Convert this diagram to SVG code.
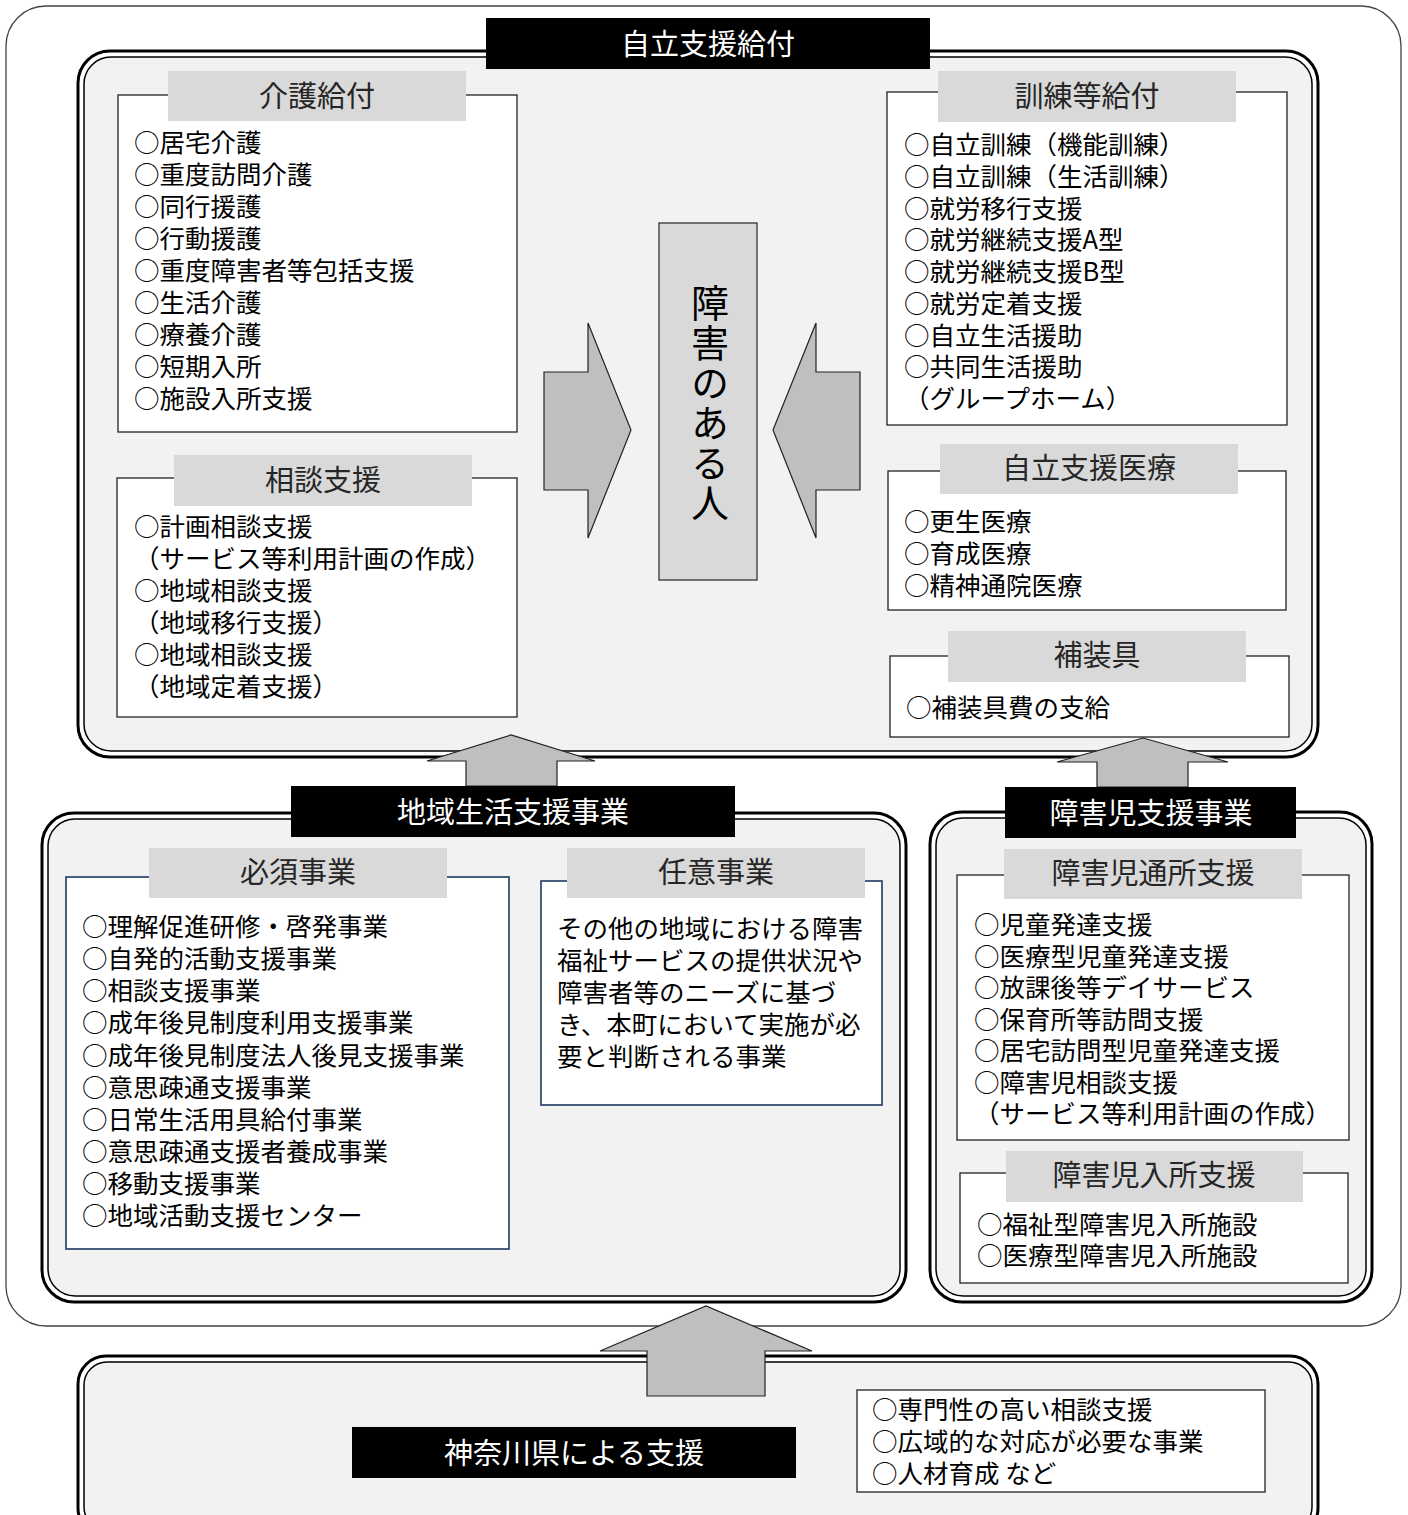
<svg xmlns="http://www.w3.org/2000/svg" width="1408" height="1515" viewBox="0 0 1408 1515">
<style>
text{font-family:"Noto Sans CJK JP","Noto Sans",sans-serif;}
.it{font-size:25.5px;fill:#000;dominant-baseline:central;}
.hd{font-size:29px;fill:#262626;text-anchor:middle;dominant-baseline:central;}
.bl{font-size:29px;fill:#fff;text-anchor:middle;dominant-baseline:central;}
.wb{fill:#fff;stroke:#222;stroke-width:1.3;}
.nb{fill:#fff;stroke:#1f3864;stroke-width:1.6;}
.gh{fill:#d9d9d9;}
.blk{fill:#000;}
.dbo{fill:#fff;stroke:#000;stroke-width:3;}
.dbi{fill:#f2f2f2;stroke:#000;stroke-width:1.5;}
.arr{fill:#bfbfbf;stroke:#222;stroke-width:1.2;}
</style>
<rect width="1408" height="1515" fill="#fff"/>
<rect id="outer" x="6" y="6" width="1395" height="1320" rx="40" fill="#fff" stroke="#444" stroke-width="1.3"/>

<g id="box-jiritsu">
<rect class="dbo" x="78" y="51" width="1240" height="706" rx="32"/>
<rect class="dbi" x="84" y="57" width="1228" height="694" rx="27"/>
</g>
<g id="box-chiiki">
<rect class="dbo" x="42" y="813" width="864" height="489" rx="32"/>
<rect class="dbi" x="48" y="819" width="852" height="477" rx="27"/>
</g>
<g id="box-shogaiji">
<rect class="dbo" x="930" y="812" width="442" height="490" rx="32"/>
<rect class="dbi" x="936" y="818" width="430" height="478" rx="27"/>
</g>
<g id="box-kanagawa">
<rect class="dbo" x="78" y="1356" width="1240" height="180" rx="28"/>
<rect class="dbi" x="84" y="1362" width="1228" height="168" rx="23"/>
</g>

<g id="kaigo">
<rect class="wb" x="118" y="95" width="399" height="337"/>
<rect class="gh" x="168" y="71" width="298" height="50"/>
<text class="hd" x="317" y="94">介護給付</text>
<text class="it"><tspan x="134" y="140">○居宅介護</tspan><tspan x="134" y="172">○重度訪問介護</tspan><tspan x="134" y="204">○同行援護</tspan><tspan x="134" y="236">○行動援護</tspan><tspan x="134" y="268">○重度障害者等包括支援</tspan><tspan x="134" y="300">○生活介護</tspan><tspan x="134" y="332">○療養介護</tspan><tspan x="134" y="364">○短期入所</tspan><tspan x="134" y="396">○施設入所支援</tspan></text>
</g>

<g id="sodan">
<rect class="wb" x="117" y="478" width="400" height="239"/>
<rect class="gh" x="174" y="455" width="298" height="51"/>
<text class="hd" x="323" y="478">相談支援</text>
<text class="it"><tspan x="134" y="524">○計画相談支援</tspan><tspan x="134" y="556">（サービス等利用計画の作成）</tspan><tspan x="134" y="588">○地域相談支援</tspan><tspan x="134" y="620">（地域移行支援）</tspan><tspan x="134" y="652">○地域相談支援</tspan><tspan x="134" y="684">（地域定着支援）</tspan></text>
</g>

<g id="kunren">
<rect class="wb" x="887" y="92" width="400" height="333"/>
<rect class="gh" x="938" y="71" width="298" height="51"/>
<text class="hd" x="1087" y="94">訓練等給付</text>
<text class="it"><tspan x="904" y="142">○自立訓練（機能訓練）</tspan><tspan x="904" y="174">○自立訓練（生活訓練）</tspan><tspan x="904" y="206">○就労移行支援</tspan><tspan x="904" y="237">○就労継続支援A型</tspan><tspan x="904" y="269">○就労継続支援B型</tspan><tspan x="904" y="301">○就労定着支援</tspan><tspan x="904" y="333">○自立生活援助</tspan><tspan x="904" y="364">○共同生活援助</tspan><tspan x="904" y="396">（グループホーム）</tspan></text>
</g>

<g id="iryo">
<rect class="wb" x="888" y="471" width="398" height="139"/>
<rect class="gh" x="940" y="444" width="298" height="50"/>
<text class="hd" x="1089" y="466">自立支援医療</text>
<text class="it"><tspan x="904" y="519">○更生医療</tspan><tspan x="904" y="551">○育成医療</tspan><tspan x="904" y="583">○精神通院医療</tspan></text>
</g>

<g id="hosogu">
<rect class="wb" x="890" y="656" width="399" height="81"/>
<rect class="gh" x="948" y="631" width="298" height="51"/>
<text class="hd" x="1097" y="653">補装具</text>
<text class="it" x="906" y="705">○補装具費の支給</text>
</g>

<g id="person">
<rect x="659" y="223" width="98" height="357" fill="#d9d9d9" stroke="#333" stroke-width="1.3"/>
<text x="710" y="404" font-size="38" fill="#000" text-anchor="middle" letter-spacing="2" style="writing-mode:vertical-rl;text-orientation:upright">障害のある人</text>
</g>

<g id="hissu">
<rect class="nb" x="66" y="877" width="443" height="372"/>
<rect class="gh" x="149" y="848" width="298" height="50"/>
<text class="hd" x="298" y="870">必須事業</text>
<text class="it"><tspan x="82" y="924">○理解促進研修・啓発事業</tspan><tspan x="82" y="956">○自発的活動支援事業</tspan><tspan x="82" y="988">○相談支援事業</tspan><tspan x="82" y="1020">○成年後見制度利用支援事業</tspan><tspan x="82" y="1053">○成年後見制度法人後見支援事業</tspan><tspan x="82" y="1085">○意思疎通支援事業</tspan><tspan x="82" y="1117">○日常生活用具給付事業</tspan><tspan x="82" y="1149">○意思疎通支援者養成事業</tspan><tspan x="82" y="1181">○移動支援事業</tspan><tspan x="82" y="1213">○地域活動支援センター</tspan></text>
</g>

<g id="nini">
<rect class="nb" x="541" y="881" width="341" height="224"/>
<rect class="gh" x="567" y="848" width="298" height="50"/>
<text class="hd" x="716" y="870">任意事業</text>
<text class="it"><tspan x="557" y="926">その他の地域における障害</tspan><tspan x="557" y="958">福祉サービスの提供状況や</tspan><tspan x="557" y="990">障害者等のニーズに基づ</tspan><tspan x="557" y="1022">き、本町において実施が必</tspan><tspan x="557" y="1054">要と判断される事業</tspan></text>
</g>

<g id="tsusho">
<rect class="wb" x="957" y="875" width="392" height="265"/>
<rect class="gh" x="1004" y="849" width="298" height="50"/>
<text class="hd" x="1153" y="871">障害児通所支援</text>
<text class="it"><tspan x="974" y="922">○児童発達支援</tspan><tspan x="974" y="954">○医療型児童発達支援</tspan><tspan x="974" y="985">○放課後等デイサービス</tspan><tspan x="974" y="1017">○保育所等訪問支援</tspan><tspan x="974" y="1048">○居宅訪問型児童発達支援</tspan><tspan x="974" y="1080">○障害児相談支援</tspan><tspan x="974" y="1111">（サービス等利用計画の作成）</tspan></text>
</g>

<g id="nyusho">
<rect class="wb" x="960" y="1173" width="388" height="110"/>
<rect class="gh" x="1006" y="1151" width="297" height="51"/>
<text class="hd" x="1154" y="1173">障害児入所支援</text>
<text class="it"><tspan x="977" y="1222">○福祉型障害児入所施設</tspan><tspan x="977" y="1253">○医療型障害児入所施設</tspan></text>
</g>

<g id="kanagawa-list">
<rect class="wb" x="857" y="1390" width="408" height="102"/>
<text class="it"><tspan x="872" y="1407">○専門性の高い相談支援</tspan><tspan x="872" y="1439">○広域的な対応が必要な事業</tspan><tspan x="872" y="1471">○人材育成 など</tspan></text>
</g>

<g id="connectors">
<path class="arr" d="M544,372 H588 V323 L631,430 L588,538 V490 H544 Z"/>
<path class="arr" d="M860,372 H816 V323 L773,430 L816,538 V490 H860 Z"/>
<path class="arr" d="M466,786 V761 H427 L511,735 L595,761 H557 V786 Z"/>
<path class="arr" d="M1097,787 V762 H1057 L1143,738 L1228,762 H1188 V787 Z"/>
<path class="arr" d="M647,1396 V1351 H600 L706,1306 L812,1351 H765 V1396 Z"/>
</g>

<g id="label-jiritsu">
<rect class="blk" x="486" y="18" width="444" height="51"/>
<text class="bl" x="708" y="42">自立支援給付</text>
</g>
<g id="label-chiiki">
<rect class="blk" x="291" y="786" width="444" height="51"/>
<text class="bl" x="513" y="810">地域生活支援事業</text>
</g>
<g id="label-shogaiji">
<rect class="blk" x="1005" y="787" width="291" height="51"/>
<text class="bl" x="1151" y="811">障害児支援事業</text>
</g>
<g id="label-kanagawa">
<rect class="blk" x="352" y="1427" width="444" height="51"/>
<text class="bl" x="574" y="1451">神奈川県による支援</text>
</g>
</svg>
